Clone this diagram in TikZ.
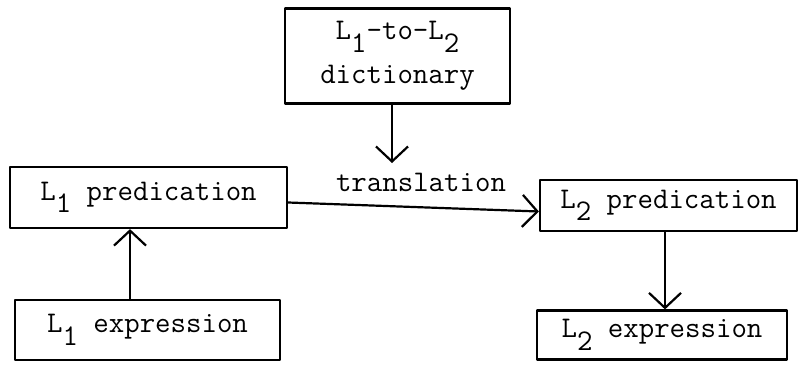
\documentclass[tikz,border=0pt]{standalone}
\usepackage{fontspec}
\usetikzlibrary{arrows.meta,calc}
% lowered digit used as a typewritten subscript
\newcommand\lowdigit[1]{\raisebox{-0.42em}{#1}}
\begin{document}
\begin{tikzpicture}[x=1pt,y=-1pt,
  box/.style={draw,line width=2.2pt,line join=round,inner sep=0pt,
    font=\ttfamily\fontsize{30}{44}\selectfont,align=center},
  lbl/.style={inner sep=0pt,font=\ttfamily\fontsize{30}{36}\selectfont},
  link/.style={line width=2.2pt,line cap=round,
    -{Straight Barb[length=15pt,width=32pt,line width=2.2pt]}}]
\useasboundingbox (0,0) rectangle (798,369);

\node[box,minimum width=225pt,minimum height=95pt] (dict) at (397.5,56)
  {L\lowdigit{1}-to-L\lowdigit{2}\\dictionary};
\node[box,minimum width=277pt,minimum height=61pt] (p1) at (148.5,197.5)
  {L\lowdigit{1} predication};
\node[box,minimum width=265pt,minimum height=60pt] (e1) at (147.5,330)
  {L\lowdigit{1} expression};
\node[box,minimum width=257pt,minimum height=51pt] (p2) at (668.5,205.5)
  {L\lowdigit{2} predication};
\node[box,minimum width=250pt,minimum height=49pt] (e2) at (662,335)
  {L\lowdigit{2} expression};
\node[lbl] (tr) at (421,182) {translation};

\coordinate (dictend) at (392,163);
\draw[link] (dict.south -| dictend) -- (dictend);
\draw[link] (e1.north -| 130,0) -- (p1.south -| 130,0);
\draw[link] ($(p1.east)+(0,5)$) -- ($(p2.west)+(0,6)$);
\draw[link] (p2.south -| 665,0) -- (e2.north -| 665,0);
\end{tikzpicture}
\end{document}
